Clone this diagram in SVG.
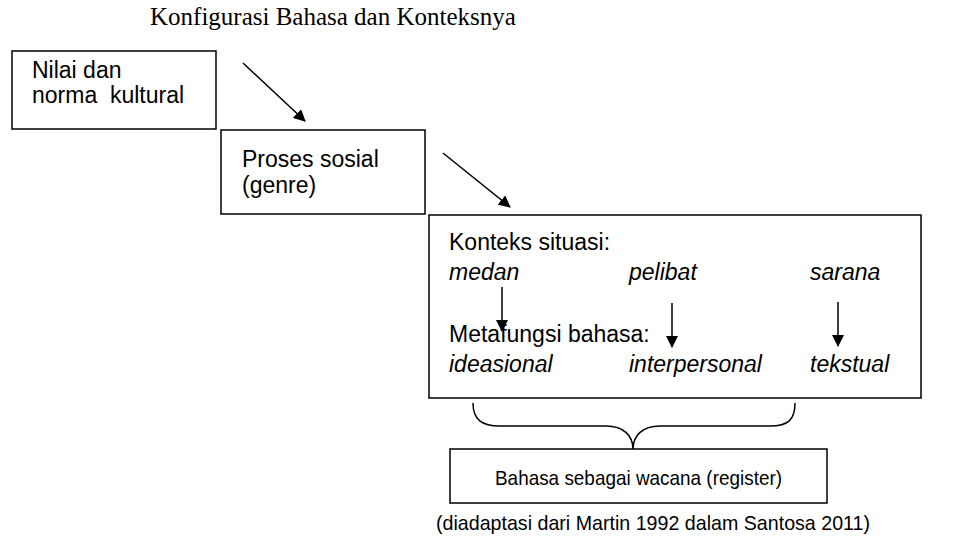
<svg xmlns="http://www.w3.org/2000/svg" width="972" height="542" viewBox="0 0 972 542">
<defs>
<style>
.box{fill:#fff;stroke:#000;stroke-width:1.5}
.t{font-family:"Liberation Sans",Arial,sans-serif;font-size:23px;fill:#000}
.s{font-family:"Liberation Sans",Arial,sans-serif;font-size:21px;fill:#000}
.i{font-style:italic}
.title{font-family:"Liberation Serif","Times New Roman",serif;font-size:25px;fill:#000}
.ln{stroke:#000;stroke-width:1.5;fill:none}
</style>
<marker id="ah" markerWidth="12" markerHeight="12" refX="11" refY="6" orient="auto" markerUnits="userSpaceOnUse" viewBox="0 0 12 12">
<path d="M0,0 L12,6 L0,12 z" fill="#000"/>
</marker>
</defs>
<rect width="972" height="542" fill="#fff"/>
<text class="title" x="150" y="25">Konfigurasi Bahasa dan Konteksnya</text>
<g id="n1">
<rect class="box" x="12" y="51" width="204" height="78"/>
<text class="t" x="32" y="78">Nilai dan</text>
<text class="t" x="32" y="103" xml:space="preserve">norma  kultural</text>
</g>
<g id="n2">
<rect class="box" x="221" y="130" width="204" height="84"/>
<text class="t" x="242" y="167">Proses sosial</text>
<text class="t" x="242" y="193">(genre)</text>
</g>
<g id="n3">
<rect class="box" x="429" y="215" width="492" height="183"/>
<text class="t" x="449" y="250">Konteks situasi:</text>
<text class="t i" x="449" y="280">medan</text>
<text class="t i" x="629" y="280">pelibat</text>
<text class="t i" x="810" y="280">sarana</text>
<text class="t" x="449" y="342">Metafungsi bahasa:</text>
<text class="t i" x="449" y="372">ideasional</text>
<text class="t i" x="629" y="372">interpersonal</text>
<text class="t i" x="810" y="372">tekstual</text>
</g>
<g id="n4">
<rect class="box" x="450" y="449" width="377" height="54"/>
<text class="s" x="495" y="485" textLength="287" lengthAdjust="spacingAndGlyphs">Bahasa sebagai wacana (register)</text>
</g>
<text class="s" x="436" y="530" textLength="434" lengthAdjust="spacingAndGlyphs">(diadaptasi dari Martin 1992 dalam Santosa 2011)</text>
<g id="connectors">
<line class="ln" x1="243" y1="63" x2="305" y2="121" marker-end="url(#ah)"/>
<line class="ln" x1="443" y1="153" x2="510" y2="207" marker-end="url(#ah)"/>
<line class="ln" x1="502" y1="287" x2="502" y2="331" marker-end="url(#ah)"/>
<line class="ln" x1="672" y1="303" x2="672" y2="347" marker-end="url(#ah)"/>
<line class="ln" x1="838" y1="302" x2="838" y2="346" marker-end="url(#ah)"/>
<path class="ln" d="M473,403 C473,420 482,426 500,426 L606,426 C624,426 633,436 633,449 C633,436 642,426 660,426 L770,426 C788,426 795,420 795,403"/>
</g>
</svg>
